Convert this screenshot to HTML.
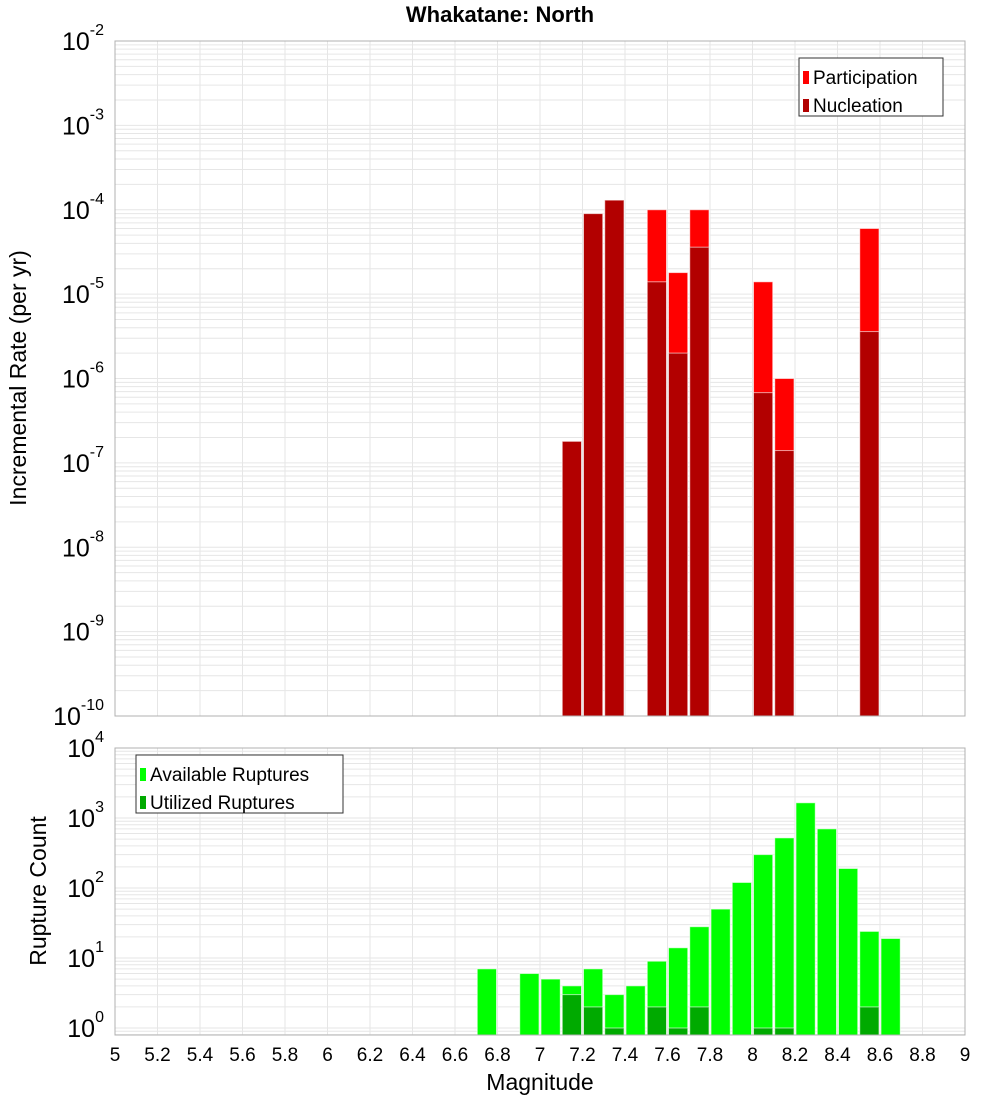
<!DOCTYPE html>
<html><head><meta charset="utf-8"><style>
body{margin:0;background:#fff;}
svg text{font-family:"Liberation Sans","DejaVu Sans",sans-serif;}
</style></head><body>
<svg id="chart" width="1000" height="1100" xmlns="http://www.w3.org/2000/svg">
<text x="500" y="22" text-anchor="middle" font-size="22" font-weight="bold">Whakatane: North</text>
<g id="top"></g><g id="bot"></g>
<text transform="translate(26,378) rotate(-90)" text-anchor="middle" font-size="23">Incremental Rate (per yr)</text>
<text transform="translate(46,891) rotate(-90)" text-anchor="middle" font-size="23">Rupture Count</text>
<text x="540" y="1090" text-anchor="middle" font-size="23">Magnitude</text>
</svg>
<script>
const rateMags = [7.15, 7.25, 7.35, 7.55, 7.65, 7.75, 8.05, 8.15, 8.55];
const participation = [1.8e-7, 9e-5, 1.3e-4, 1e-4, 1.8e-5, 1e-4, 1.4e-5, 1e-6, 6e-5];
const nucleation = [1.8e-7, 9e-5, 1.3e-4, 1.4e-5, 2e-6, 3.6e-5, 6.8e-7, 1.4e-7, 3.6e-6];
const countMags = [6.75, 6.95, 7.05, 7.15, 7.25, 7.35, 7.45, 7.55, 7.65, 7.75, 7.85, 7.95, 8.05, 8.15, 8.25, 8.35, 8.45, 8.55, 8.65];
const available = [7, 6, 5, 4, 7, 3, 4, 9, 14, 28, 50, 120, 300, 520, 1650, 700, 190, 24, 19];
const utilMags = [7.15, 7.25, 7.35, 7.55, 7.65, 7.75, 8.05, 8.15, 8.55];
const utilized = [3, 2, 1, 2, 1, 2, 1, 1, 2];
const xTicks = ["5","5.2","5.4","5.6","5.8","6","6.2","6.4","6.6","6.8","7","7.2","7.4","7.6","7.8","8","8.2","8.4","8.6","8.8","9"];

const NS='http://www.w3.org/2000/svg';
const X0=115,X1=965;
const xs=m=>X0+(m-5)/4*(X1-X0);
const topY={t:41,b:716,min:-10,max:-2};
const botY={t:748,b:1035,min:-0.1,max:4};
function ys(ax,v){return ax.t+(ax.max-Math.log10(v))/(ax.max-ax.min)*(ax.b-ax.t);}
function mk(p,tag,at){const e=document.createElementNS(NS,tag);for(const k in at)e.setAttribute(k,at[k]);p.appendChild(e);return e;}
function panel(g,ax,prefix){
  mk(g,'rect',{x:X0,y:ax.t,width:X1-X0,height:ax.b-ax.t,fill:'#fff'});
  for(let d=Math.floor(ax.min);d<ax.max;d++)for(let k=1;k<10;k++){const v=k*Math.pow(10,d);const lv=Math.log10(v);if(lv<ax.min||lv>ax.max)continue;const y=ys(ax,v);
    const l=mk(g,'line',{x1:X0,x2:X1,y1:y,y2:y,stroke:'#e6e6e6','stroke-width':1});
    }
  xTicks.forEach(t=>{const x=xs(+t);const l=mk(g,'line',{x1:x,x2:x,y1:ax.t,y2:ax.b,stroke:'#e6e6e6','stroke-width':1});
    });
  for(let d=Math.ceil(ax.min);d<=ax.max;d++){const y=ys(ax,Math.pow(10,d));
    const t=mk(g,'text',{x:104,y:y+9,'text-anchor':'end','font-size':25});
    
    t.textContent='10';const s=mk(t,'tspan',{dy:-15,'font-size':16});s.textContent=String(d);}
}
function frame(g,ax){mk(g,'rect',{x:X0,y:ax.t,width:X1-X0,height:ax.b-ax.t,fill:'none',stroke:'#b0b0b0','stroke-width':1});}
function bar(g,ax,m,v,fill,name){const x=xs(m-0.05)+1,w=xs(m+0.05)-xs(m-0.05)-2;const y=ys(ax,v);
  const r=mk(g,'rect',{x:x,y:y,width:w,height:ax.b-y,fill:fill,stroke:'rgba(255,255,255,0.6)','stroke-width':1});
  }
function legend(g,x,y,w,items){const r=mk(g,'rect',{x:x,y:y,width:w,height:58,fill:'#fff',stroke:'#333','stroke-width':1});
  
  items.forEach((it,i)=>{const yy=y+19+i*28;mk(g,'rect',{x:x+4,y:yy-6,width:6,height:13,fill:it[1]});
    const t=mk(g,'text',{x:x+14,y:yy+7,'font-size':19});t.textContent=it[0];
    });}
const gt=document.getElementById('top'),gb=document.getElementById('bot');
panel(gt,topY,'top');
rateMags.forEach((m,i)=>bar(gt,topY,m,participation[i],'#ff0000','participation-bar'));
rateMags.forEach((m,i)=>bar(gt,topY,m,nucleation[i],'#b20000','nucleation-bar'));
frame(gt,topY);
legend(gt,799,58,144,[['Participation','#ff0000'],['Nucleation','#b20000']]);
panel(gb,botY,'bottom');
countMags.forEach((m,i)=>bar(gb,botY,m,available[i],'#00ff00','available-bar'));
utilMags.forEach((m,i)=>bar(gb,botY,m,utilized[i],'#00aa00','utilized-bar'));
frame(gb,botY);
legend(gb,136,755,207,[['Available Ruptures','#00ff00'],['Utilized Ruptures','#00aa00']]);
xTicks.forEach(t=>{const x=xs(+t);const e=mk(gb,'text',{x:x,y:1061,'text-anchor':'middle','font-size':19});
  e.textContent=t;});
</script>
</body></html>
